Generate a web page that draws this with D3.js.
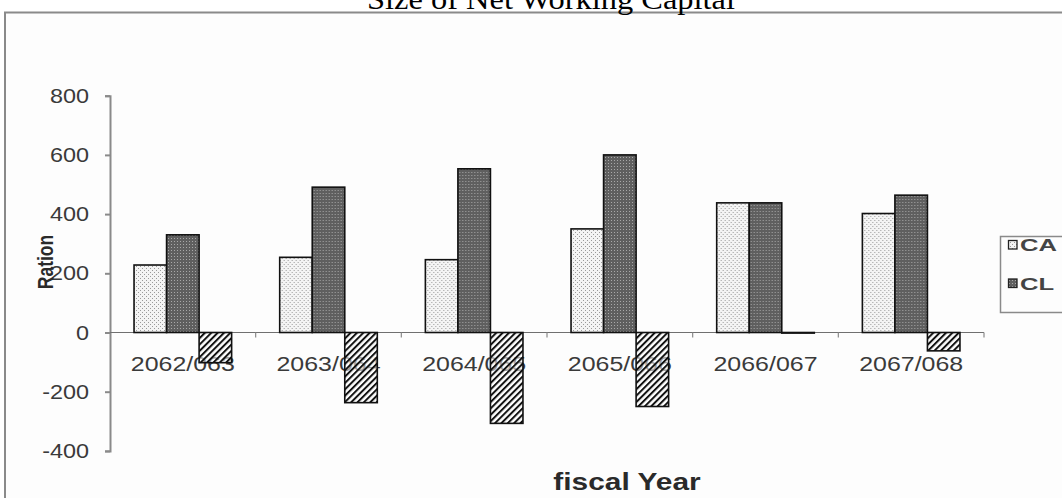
<!DOCTYPE html>
<html>
<head>
<meta charset="utf-8">
<script src="https://cdn.jsdelivr.net/npm/d3@7"></script>
<style>
  html, body { margin: 0; padding: 0; background: #ffffff; }
  svg { display: block; }
</style>
</head>
<body>
<svg id="chart" width="1062" height="498"></svg>
<script>
// Fiscal years and working-capital figures
const categories = ["2062/063", "2063/064", "2064/065", "2065/066", "2066/067", "2067/068"];
const seriesNames = ["CA", "CL", "NWC"];
const caValues  = [228, 254, 246, 350, 438, 402];
const clValues  = [330, 491, 553, 600, 438, 464];
const nwcValues = [-102, -237, -307, -250, 0, -62];
const yTicks = [-400, -200, 0, 200, 400, 600, 800];
const legendNames = ["CA", "CL"];

const seriesValues = { CA: caValues, CL: clValues, NWC: nwcValues };
const rows = categories.map((c, i) => ({
  category: c,
  values: seriesNames.map(s => ({ key: s, value: seriesValues[s][i] }))
}));

const svg = d3.select("#chart");
const stretch = 1.27;   // wide lettering used throughout the chart

// Fill patterns for the three series
const defs = svg.append("defs");
const pCA = defs.append("pattern").attr("id", "patCA")
  .attr("width", 4).attr("height", 4).attr("patternUnits", "userSpaceOnUse");
pCA.append("rect").attr("width", 4).attr("height", 4).attr("fill", "#f4f4f4");
pCA.append("rect").attr("x", 0).attr("y", 0).attr("width", 1).attr("height", 1).attr("fill", "#9a9a9a");
pCA.append("rect").attr("x", 2).attr("y", 2).attr("width", 1).attr("height", 1).attr("fill", "#9a9a9a");

const pCL = defs.append("pattern").attr("id", "patCL")
  .attr("width", 3).attr("height", 3).attr("patternUnits", "userSpaceOnUse");
pCL.append("rect").attr("width", 3).attr("height", 3).attr("fill", "#5f5f5f");
pCL.append("rect").attr("x", 1).attr("y", 1).attr("width", 1).attr("height", 1).attr("fill", "#a8a8a8");

// diagonal hatch with open gaps, so labels behind it stay faintly visible
const pNWC = defs.append("pattern").attr("id", "patNWC")
  .attr("width", 4.5).attr("height", 4.5).attr("patternUnits", "userSpaceOnUse")
  .attr("patternTransform", "rotate(45)");
pNWC.append("rect").attr("width", 4.5).attr("height", 4.5).attr("fill", "#ffffff").attr("fill-opacity", 0.55);
pNWC.append("line").attr("x1", 1).attr("y1", 0).attr("x2", 1).attr("y2", 4.5)
  .attr("stroke", "#111").attr("stroke-width", 2);

const fills = { CA: "url(#patCA)", CL: "url(#patCL)", NWC: "url(#patNWC)" };

// Background and frame
svg.append("rect").attr("width", 1062).attr("height", 498).attr("fill", "#ffffff");
svg.append("rect").attr("x", 5).attr("y", 12.5).attr("width", 1080).attr("height", 500)
  .attr("fill", "#fdfdfd").attr("stroke", "#8a8a8a").attr("stroke-width", 2);

// Title (sits against the top edge of the page)
svg.append("text")
  .attr("x", 551).attr("y", 9)
  .attr("text-anchor", "middle")
  .attr("font-family", "'Liberation Serif', 'Times New Roman', serif")
  .attr("font-size", 30)
  .attr("textLength", 368).attr("lengthAdjust", "spacingAndGlyphs")
  .attr("fill", "#000")
  .text("Size of Net Working Capital");

// Scales
const plotLeft = 110, plotRight = 984;
const y = d3.scaleLinear().domain([-400, 800]).range([450.9, 95.7]);
const x0 = d3.scaleBand().domain(categories).range([plotLeft, plotRight]).padding(0);
const bw = x0.bandwidth();
const x1 = d3.scaleBand().domain(seriesNames).range([bw * 0.165, bw * 0.835]).padding(0);

// helper for horizontally stretched text
function wideText(g, x, yPos, str, opts) {
  return g.append("g").attr("transform", `translate(${x},${yPos}) scale(${opts.sx || stretch},1)`)
    .append("text")
    .attr("text-anchor", opts.anchor || "middle")
    .attr("font-family", "'Liberation Sans', Arial, sans-serif")
    .attr("font-size", opts.size)
    .attr("font-weight", opts.weight || "normal")
    .attr("fill", opts.fill || "#3a3a3a")
    .text(str);
}

// Y axis
const yAxis = d3.axisLeft(y).tickValues(yTicks).tickSize(5).tickFormat("");
const yG = svg.append("g").attr("transform", `translate(${plotLeft},0)`).call(yAxis);
yG.select(".domain").attr("stroke", "#8a8a8a").attr("stroke-width", 2);
yG.selectAll(".tick line").attr("stroke", "#8a8a8a").attr("stroke-width", 2);
const tickLabels = svg.append("g");
yTicks.forEach(v => {
  wideText(tickLabels, 89, y(v) + 7, String(v), { size: 19.5, anchor: "end", sx: 1.2 });
});

// Category labels (bars are drawn over them)
const catLabels = svg.append("g");
categories.forEach(c => {
  wideText(catLabels, x0(c) + bw / 2, 371, c, { size: 19.5, sx: 1.28 });
});

// Zero line with category dividers
const xAxis = d3.axisBottom(x0).tickSize(0).tickFormat("");
const xG = svg.append("g").attr("transform", `translate(0,${y(0)})`).call(xAxis);
xG.select(".domain").attr("stroke", "#707070").attr("stroke-width", 1.2)
  .attr("d", `M${plotLeft},0H${plotRight}`);
xG.selectAll(".tick").remove();
xG.selectAll(".divider")
  .data(categories.slice(1).concat(["end"]))
  .join("line")
  .attr("x1", (d, i) => plotLeft + bw * (i + 1))
  .attr("x2", (d, i) => plotLeft + bw * (i + 1))
  .attr("y1", 0).attr("y2", 5)
  .attr("stroke", "#8a8a8a").attr("stroke-width", 1.2);

// Bars
const groups = svg.append("g").selectAll("g")
  .data(rows).join("g")
  .attr("transform", d => `translate(${x0(d.category)},0)`);
groups.selectAll("rect")
  .data(d => d.values).join("rect")
  .attr("x", d => x1(d.key))
  .attr("width", x1.bandwidth())
  .attr("y", d => y(Math.max(0, d.value)))
  .attr("height", d => Math.max(0.6, Math.abs(y(d.value) - y(0))))
  .attr("fill", d => fills[d.key])
  .attr("stroke", "#111")
  .attr("stroke-width", 1.6);

// Axis titles
wideText(svg, 627, 490, "fiscal Year", { size: 23, weight: "bold", fill: "#2a2a2a", sx: 1.3 });
svg.append("g").attr("transform", "translate(53,262) rotate(-90) scale(1,1.25)")
  .append("text")
  .attr("text-anchor", "middle")
  .attr("font-family", "'Liberation Sans', Arial, sans-serif")
  .attr("font-size", 17.5).attr("font-weight", "bold")
  .attr("fill", "#2a2a2a")
  .text("Ration");

// Legend
const legend = svg.append("g");
legend.append("rect").attr("x", 1000.5).attr("y", 236.5).attr("width", 80).attr("height", 76)
  .attr("fill", "#fdfdfd").attr("stroke", "#8a8a8a").attr("stroke-width", 1.5);
const legendY = [245, 283.5];
legendNames.forEach((n, i) => {
  legend.append("rect")
    .attr("x", 1008.5).attr("y", legendY[i] - 4.5).attr("width", 8.5).attr("height", 8.5)
    .attr("fill", fills[n]).attr("stroke", "#222").attr("stroke-width", 1.3);
  wideText(legend, 1020, legendY[i] + 6, n, { size: 16, anchor: "start", weight: "bold", sx: 1.6, fill: "#444" });
});
</script>
</body>
</html>
